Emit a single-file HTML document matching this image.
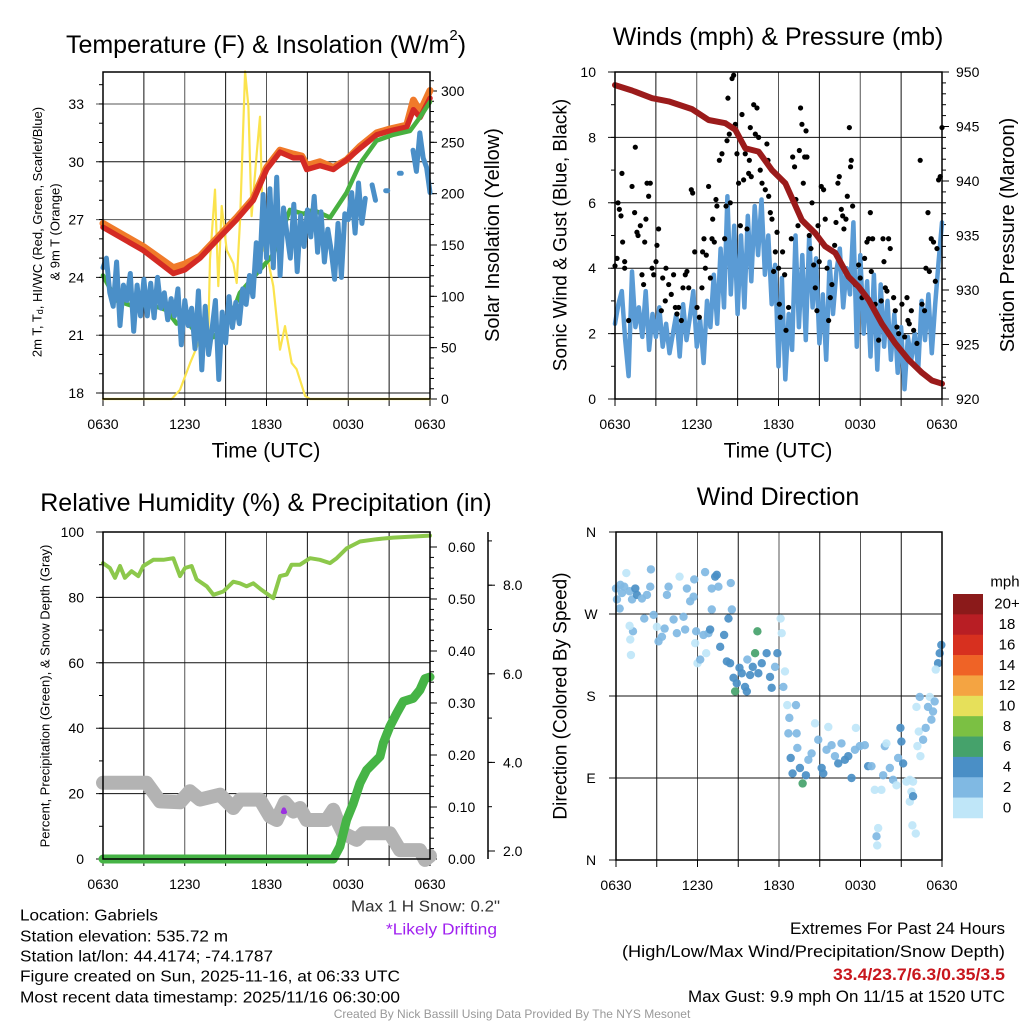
<!DOCTYPE html>
<html><head><meta charset="utf-8"><title>Mesonet Station Summary</title>
<style>
html,body{margin:0;padding:0;background:#fff;}
svg{display:block;font-family:"Liberation Sans",sans-serif;}
</style></head>
<body>
<svg id="chart" width="1024" height="1024" viewBox="0 0 1024 1024" xmlns="http://www.w3.org/2000/svg">
<rect x="0" y="0" width="1024" height="1024" fill="#fff"/>
<g id="layer"></g>
</svg>
<script>
// ---------- Panel 1: temperature (hours since 0630 UTC) ----------
const tempHours=[0,2.96,5.16,6.02,7.12,8.59,9.81,11.03,12.01,12.99,13.97,14.58,14.95,15.93,16.9,17.88,18.86,20.09,21.06,22.29,22.78,23.27,24];
const tempValues=[26.6,25.4,24.2,24.4,25.0,26.1,27.0,28.0,29.6,30.5,30.2,30.2,29.6,29.8,29.6,30.1,30.7,31.4,31.6,31.8,32.7,32.3,33.3];
const temp9mValues=[26.8,25.6,24.5,24.7,25.1,26.2,27.1,28.1,29.7,30.6,30.4,30.3,29.8,30.0,29.7,30.1,30.8,31.5,31.7,31.9,33.2,32.6,33.7];
const dewHours=[0,1.0,2.23,3.45,4.67,5.41,6.14,6.87,8.1,9.32,10.05,11.03,11.77,12.5,13.72,14.7,15.43,16.66,17.88,18.86,20.08,21.3,22.53,23.26,24];
const dewValues=[24.1,22.8,22.5,22.6,22.3,21.6,21.7,21.1,20.9,21.8,23.2,24.0,24.6,25.2,27.5,27.3,27.5,27.1,28.4,29.9,31.1,31.4,31.6,32.3,33.1];
const chillValues=[24.5,25.0,23.2,22.5,24.8,21.5,23.6,22.8,24.2,21.2,23.6,22.0,23.9,
22.0,23.7,21.9,24.0,22.4,23.2,21.8,22.9,22.0,23.4,20.5,22.8,
21.5,22.4,20.3,23.3,19.2,22.5,20.0,21.3,22.8,18.7,22.2,20.6,
23.0,21.4,22.7,21.6,23.4,22.6,24.1,23.0,25.8,24.3,28.3,25.0,
28.6,24.5,29.2,24.1,27.6,26.3,25.0,27.8,24.3,27.2,25.6,27.5,
26.1,28.2,25.3,27.4,24.8,26.5,25.4,23.9,26.8,24.0,27.3,27.0,
28.4,26.3,28.9,26.8,28.1,null,28.8,28.0,null,null,28.5,null,
null,null,29.4,null,null,null,30.6,29.5,31.5,30.2,29.7,28.4];
const solarHours=[0,5.04,5.65,6.39,7.12,7.73,7.85,8.22,8.46,8.71,9.08,9.57,9.81,10.06,10.43,10.67,10.91,11.28,11.52,11.77,12.01,12.5,12.99,13.36,13.85,14.21,14.83,15.19,24];
const solarValues=[0,0,9,35,58,64,136,204,110,188,145,132,113,175,319,285,178,239,275,145,142,110,48,71,35,29,3,0,0];
const tempTicks=[18,21,24,27,30,33];
const solarTicks=[0,50,100,150,200,250,300];
const timeTickLabels=["0630","1230","1830","0030","0630"];
// ---------- Panel 2: winds & pressure ----------
const windValues=[2.3,2.9,3.3,1.8,0.7,3.9,2.2,2.8,1.9,3.3,1.5,2.6,1.9,
2.8,1.6,2.3,1.4,2.0,2.6,1.3,2.9,1.8,2.5,3.3,1.6,
2.4,1.1,3.0,2.2,3.8,2.3,4.6,2.8,6.2,3.2,5.3,2.6,
5.0,2.8,5.6,3.6,5.9,4.4,6.1,3.8,5.0,2.9,4.1,1.0,
3.7,0.6,2.6,1.5,5.0,2.2,4.4,1.8,5.0,2.8,4.3,1.7,
3.2,1.2,4.2,2.6,3.9,4.6,2.8,4.0,3.2,5.4,1.6,4.4,
2.0,3.6,1.3,3.8,0.9,3.5,1.6,3.0,1.2,2.6,0.8,2.2,
0.3,1.9,1.2,2.0,0.9,3.0,1.8,3.2,1.4,2.9,4.2,5.4];
const gustHours=[0,0.15,0.22,0.32,0.44,0.51,0.56,0.71,0.71,1.0,1.25,1.44,1.49,1.61,1.69,1.86,1.98,2.1,2.18,2.27,2.35,2.47,2.59,2.72,2.84,3.01,3.08,3.2,3.4,3.5,3.69,3.74,3.94,4.13,4.3,4.43,4.55,4.67,4.87,4.99,5.16,5.28,5.41,5.6,5.7,5.85,6.02,6.19,6.38,6.43,6.53,6.63,6.7,6.87,7.0,7.12,7.17,7.29,7.41,7.48,7.66,7.85,8.05,8.15,8.22,8.29,8.39,8.46,8.59,8.71,8.83,8.95,9.07,9.2,9.32,9.44,9.56,9.69,9.81,9.86,9.93,10.0,10.18,10.3,10.42,10.54,10.66,10.79,11.03,11.15,11.23,11.28,11.4,11.52,11.64,11.77,11.89,12.01,12.06,12.13,12.3,12.45,12.55,12.74,12.94,13.04,13.18,13.28,13.43,13.53,13.62,13.72,13.82,13.92,14.02,14.09,14.26,14.38,14.46,14.58,14.7,14.82,14.9,14.99,15.14,15.31,15.43,15.56,15.68,15.8,15.92,16.12,16.22,16.36,16.46,16.61,16.71,16.8,16.95,17.05,17.2,17.29,17.34,17.44,17.64,17.88,18.0,18.13,18.32,18.49,18.61,18.74,18.81,18.91,19.1,19.35,19.54,19.67,19.74,19.84,19.96,20.08,20.2,20.45,20.57,20.69,20.82,21.06,21.26,21.43,21.5,21.6,21.75,21.92,22.16,22.4,22.53,22.72,22.82,22.97,23.07,23.21,23.38,23.51,23.63,23.75,23.87,24.0];
const gustValues=[4.07,4.3,6.0,5.8,5.6,6.9,4.8,4.2,4.0,2.4,6.5,5.7,7.7,5.1,5.0,5.3,3.8,3.5,4.8,5.5,6.6,6.2,6.6,4.0,3.8,4.2,4.7,5.2,2.7,3.7,3.0,4.0,3.5,3.2,3.8,2.8,2.6,2.8,2.4,3.4,3.8,3.9,3.4,6.4,6.3,4.5,2.8,2.5,3.4,4.5,4.9,4.0,4.4,6.5,3.7,4.9,5.5,4.8,6.1,5.9,7.3,7.5,4.9,5.9,7.9,9.2,8.1,6.0,9.8,9.9,8.4,7.5,6.6,5.3,8.7,6.7,7.5,5.2,6.9,7.3,8.3,6.8,9.0,8.1,8.9,8.0,7.0,6.6,6.4,7.8,7.3,6.2,5.7,5.5,3.9,4.5,5.1,4.0,2.9,2.5,4.5,3.8,2.1,2.8,4.9,7.4,7.1,6.1,5.3,7.6,8.9,8.4,6.6,7.4,8.2,7.4,5.0,4.6,6.0,4.1,3.4,2.7,5.3,4.2,6.5,6.4,5.5,4.0,2.4,3.1,3.5,4.7,5.4,6.6,6.8,5.8,5.6,5.2,5.5,6.2,8.3,7.1,7.3,5.9,3.5,4.1,3.7,3.1,4.3,4.8,4.9,5.7,3.9,4.9,2.9,1.8,3.0,4.9,4.2,3.4,3.3,4.9,4.6,3.1,2.7,2.2,2.0,2.9,1.9,3.1,2.4,2.3,2.7,2.1,1.7,7.3,2.9,2.7,4.0,5.7,3.9,4.9,4.8,3.6,4.6,6.7,6.8,8.3];
const pressHours=[0,1.25,2.72,3.94,5.65,6.87,8.1,8.83,9.56,10.54,11.52,12.5,13.72,14.7,15.43,16.17,17.15,17.88,18.61,19.59,20.57,21.55,22.53,23.26,24];
const pressValues=[948.8,948.3,947.6,947.3,946.6,945.6,945.3,944.7,943.0,942.7,941.0,939.8,936.4,935.2,934.0,933.4,931.2,930.3,929.1,926.9,925.1,923.6,922.4,921.7,921.4];
const windTicks=[0,2,4,6,8,10];
const pressTicks=[920,925,930,935,940,945,950];
// ---------- Panel 3: RH, precip, snow ----------
const rhHours=[0,0.51,0.88,1.25,1.61,2.1,2.59,2.96,3.69,4.43,5.16,5.65,6.02,6.5,6.87,7.61,8.1,8.83,9.56,10.05,10.54,11.03,11.64,12.01,12.5,12.99,13.48,13.84,14.46,15.19,15.92,16.66,17.15,17.88,18.86,20.08,21.3,24];
const rhValues=[90.5,89,86,89.6,86,88,86.5,89.6,91.5,91.5,92,86.5,89,89.6,85.5,83.4,80.8,81.8,84.8,84.3,83.4,84.3,82.3,81.2,79.8,86.5,87,90,90,92,91.5,90.5,92,95,97.1,97.8,98.3,98.9];
const precipHours=[0,16.9,17.39,17.88,18.37,18.86,19.35,19.84,20.33,20.57,21.06,21.55,22.04,22.77,23.26,23.63,24];
const precipValues=[0,0,0.024,0.075,0.107,0.146,0.171,0.184,0.197,0.223,0.255,0.28,0.303,0.309,0.325,0.347,0.35];
const snowHours=[0,3.2,4.18,5.65,6.38,7.12,8.59,9.56,10.05,11.52,12.25,12.74,13.36,13.97,14.46,14.95,16.41,16.9,17.27,17.64,18.61,19.1,21.06,21.79,23.26,23.63,24];
const snowValues=[3.54,3.54,3.12,3.1,3.35,3.16,3.27,2.97,3.16,3.16,2.78,2.7,3.1,2.89,2.97,2.7,2.7,2.93,2.63,2.4,2.25,2.4,2.4,2.02,2.02,1.8,1.89];
const driftHours=[13.2,13.28,13.36];
const driftValues=[2.88,2.94,2.88];
const rhTicks=[0,20,40,60,80,100];
const precipTicks=[0,0.1,0.2,0.3,0.4,0.5,0.6];
const snowTicks=[2,4,6,8];
// ---------- Panel 4: wind direction ----------
const dirHours=[0,0.07,0.27,0.32,0.61,0.76,0.44,1.0,1.18,1.42,1.54,1.91,2.28,2.52,2.57,2.08,2.77,3.01,1.25,1.05,1.1,1.0,3.75,3.87,4.24,4.48,4.68,4.97,5.09,5.22,5.46,5.76,5.71,3.13,3.38,3.58,5.9,5.83,6.0,6.2,6.44,6.56,6.81,6.93,7.05,7.05,7.3,7.42,7.54,6.64,7.67,7.96,8.28,8.45,8.53,8.16,8.4,8.65,8.89,9.09,9.26,9.5,9.63,9.67,9.87,10.07,10.24,10.41,10.48,10.73,11.09,11.34,11.46,11.71,11.88,12.12,12.2,12.32,12.44,12.61,12.76,12.69,12.86,13.0,13.25,13.3,13.35,13.54,13.74,13.98,14.16,14.4,14.65,14.89,15.14,15.26,15.5,15.63,15.87,16.12,16.36,16.6,16.85,17.1,17.34,17.59,17.66,17.95,18.32,18.56,18.81,19.05,19.18,19.3,19.23,19.54,19.67,19.79,19.91,20.16,20.4,20.65,20.77,20.94,21.01,21.14,21.38,21.63,21.75,21.63,21.87,21.82,22.07,22.12,22.19,22.29,22.41,22.61,22.8,22.36,22.97,23.1,23.34,23.46,23.22,23.71,23.83,23.95,23.54,21.87,8.77];
const dirDegrees=[298,286,276,302,300,315,293,295,286,298,291,287,291,300,319,265,269,256,251,242,225,257,291,300,264,249,311,267,253,298,284,308,289,240,245,254,251,238,216,220,247,316,249,253,275,298,311,313,300,227,234,247,265,304,275,218,216,200,194,211,205,190,185,220,203,212,227,251,205,216,227,201,189,212,227,265,249,190,207,170,156,139,112,95,170,139,123,101,84,93,110,117,150,132,101,95,121,146,126,114,106,128,110,114,90,121,145,125,126,103,103,77,26,35,16,77,93,125,128,101,88,82,112,145,130,106,86,88,75,64,70,38,29,168,125,141,114,132,145,179,168,179,163,174,154,216,227,236,209,86,185];
const dirSpeeds=[3,3,3,3,3,1,3,3,3,5,5,3,3,3,3,3,3,1,3,1,1,1,3,3,3,3,1,3,3,3,3,3,3,3,3,3,3,1,1,3,3,3,3,5,3,3,5,5,3,1,5,5,5,3,3,5,5,5,5,5,5,5,5,3,5,5,7,7,5,5,5,5,5,3,5,1,1,3,1,1,3,3,5,5,3,3,3,5,7,5,3,3,1,3,5,5,3,1,3,3,5,3,5,5,5,3,1,3,3,5,3,1,3,1,1,1,3,3,1,3,3,1,3,5,5,5,1,1,1,1,5,1,1,1,1,1,1,3,3,3,3,1,3,3,3,5,5,5,1,1,7];
const dirTickLabels=["N","E","S","W","N"];
const dirTicks=[0,90,180,270,360];
const speedBins=[0,2,4,6,8,10,12,14,16,18,20];
const speedBinLabels=["0","2","4","6","8","10","12","14","16","18","20+"];
const speedColors=["#bfe6f8","#80b9e3","#4a8fc6","#45a26b","#7bc043","#e6e05a","#f4a442","#ef6326","#d7301f","#b81e24","#8b1a1a"];

// ---------- drawing helpers ----------
const NS="http://www.w3.org/2000/svg";
const layer=document.getElementById('layer');
function el(tag,attrs,parent,text){
  const e=document.createElementNS(NS,tag);
  for(const k in attrs) e.setAttribute(k,attrs[k]);
  if(text!==undefined) e.textContent=text;
  (parent||layer).appendChild(e);
  return e;
}
function group(name){
  const g=el('g',{});
  
  
  return g;
}
function txt(parent,x,y,s,size,opts){
  opts=opts||{};
  const t=el('text',{x:x,y:y,'font-size':size,'text-anchor':opts.anchor||'middle','dominant-baseline':'central',fill:opts.fill||'#000'},parent,s);
  if(opts.weight) t.setAttribute('font-weight',opts.weight);
  if(opts.rotate) t.setAttribute('transform','rotate(-90 '+x+' '+y+')');
  if(opts.len){ t.setAttribute('textLength',opts.len); t.setAttribute('lengthAdjust','spacingAndGlyphs'); }
  
  
  return t;
}
function polyline(parent,xs,ys,color,w,name,cap){
  let segs=[],cur=[];
  for(let i=0;i<xs.length;i++){
    if(ys[i]===null||ys[i]===undefined){ if(cur.length) segs.push(cur); cur=[]; }
    else cur.push([xs[i],ys[i]]);
  }
  if(cur.length) segs.push(cur);
  segs.forEach(s=>{
    if(s.length===1){ s.push([s[0][0]+2,s[0][1]]); }
    const p=el('path',{d:'M'+s.map(q=>q[0].toFixed(1)+','+q[1].toFixed(1)).join('L'),fill:'none',stroke:color,'stroke-width':w,'stroke-linejoin':'round','stroke-linecap':cap||'round'},parent);
    
    
  });
}
function makeX(x0,x1){ return h=>x0+(x1-x0)*h/24; }

function frame(g,x0,x1,y0,y1,xs){
  for(let h=3;h<24;h+=3){
    const l=el('line',{x1:xs(h),x2:xs(h),y1:y0,y2:y1,stroke:(h%6===0?'#555':'#111'),'stroke-width':1},g);
    
    
  }
  for(let h=0;h<=24;h+=3){
    const t=el('line',{x1:xs(h),x2:xs(h),y1:y1,y2:y1+7,stroke:'#000','stroke-width':1},g);
    
    
  }
  timeTickLabels.forEach((s,i)=>txt(g,xs(i*6),y1+25,s,14,{name:'x-tick-label'}));
}
function border(g,x0,x1,y0,y1){
  const r=el('rect',{x:x0,y:y0,width:x1-x0,height:y1-y0,fill:'none',stroke:'#000','stroke-width':1.5},g);
  
  
}
function hgrid(g,x0,x1,y,dark){
  const l=el('line',{x1:x0-7,x2:x1,y1:y,y2:y,stroke:dark?'#111':'#555','stroke-width':1},g);
  
  
}
function tick(g,x,y,len,name){
  const l=el('line',{x1:x,x2:x+len,y1:y,y2:y,stroke:'#000','stroke-width':1},g);
  
  
}

// ================= PANEL 1 =================
(function(){
  const g=group('temperature-panel');
  const x0=103,x1=430,y0=72,y1=399;
  const xs=makeX(x0,x1);
  const yT=v=>393-(v-18)*19.27;
  const yS=v=>399-v*1.0267;
  const tt=txt(g,266,45,'',25,{name:'temperature-title'});
  tt.innerHTML='Temperature (F) &amp; Insolation (W/m<tspan font-size="15" dy="-10">2</tspan><tspan dy="10">)</tspan>';
  frame(g,x0,x1,y0,y1,xs);
  tempTicks.forEach((v,i)=>{hgrid(g,x0,x1,yT(v),i%2===0);txt(g,84,yT(v),String(v),14,{anchor:'end',name:'left-tick-label'});});
  for(let v=18;v<=34;v++) tick(g,x0-4,yT(v),4,'left-minor-tick');
  solarTicks.forEach(v=>{tick(g,x1,yS(v),7,'right-tick');txt(g,441,yS(v),String(v),14,{anchor:'start',name:'right-tick-label'});});
  for(let v=0;v<=310;v+=10) tick(g,x1,yS(v),4,'right-minor-tick');
  polyline(g,solarHours.map(xs),solarValues.map(yS),'#fbe34d',2.2,'solar-insolation-line');
  polyline(g,tempHours.map(xs),temp9mValues.map(yT),'#f07a2a',7,'temp-9m-line');
  polyline(g,tempHours.map(xs),tempValues.map(yT),'#d42a24',5.5,'temp-2m-line');
  polyline(g,dewHours.map(xs),dewValues.map(yT),'#48b040',4.5,'dewpoint-line');
  polyline(g,chillValues.map((v,i)=>xs(i*0.25)),chillValues.map(v=>v===null?null:yT(v)),'#4a8fc8',5,'wind-chill-line');
  border(g,x0,x1,y0,y1);
  txt(g,266,451,'Time (UTC)',21,{name:'x-axis-title'});
  const t=txt(g,37,232,'',13,{rotate:true,name:'left-axis-title'});
  t.innerHTML='2m T, T<tspan font-size="9" dy="3">d</tspan><tspan dy="-3">, HI/WC (Red, Green, Scarlet/Blue)</tspan>';
  txt(g,55,232,'& 9m T (Orange)',13,{rotate:true,name:'left-axis-title-line2'});
  txt(g,493,235,'Solar Insolation (Yellow)',20,{rotate:true,name:'right-axis-title'});
})();

// ================= PANEL 2 =================
(function(){
  const g=group('winds-panel');
  const x0=615,x1=942,y0=72,y1=399;
  const xs=makeX(x0,x1);
  const yW=v=>399-v*32.7;
  const yP=v=>399-(v-920)*10.9;
  txt(g,778,37,'Winds (mph) & Pressure (mb)',25,{name:'winds-title'});
  frame(g,x0,x1,y0,y1,xs);
  windTicks.forEach((v,i)=>{hgrid(g,x0,x1,yW(v),true);txt(g,596,yW(v),String(v),14,{anchor:'end',name:'left-tick-label'});});
  for(let v=0;v<=10;v++) tick(g,x0-4,yW(v),4,'left-minor-tick');
  pressTicks.forEach(v=>{tick(g,x1,yP(v),7,'right-tick');txt(g,956,yP(v),String(v),14,{anchor:'start',name:'right-tick-label'});});
  for(let v=920;v<=950;v++) tick(g,x1,yP(v),4,'right-minor-tick');
  polyline(g,windValues.map((v,i)=>xs(i*0.25)),windValues.map(yW),'#5a9bd5',4.5,'sonic-wind-line');
  gustHours.forEach((h,i)=>{
    const c=el('circle',{cx:xs(h),cy:yW(gustValues[i]),r:2.6,fill:'#000'},g);
    
    
  });
  polyline(g,pressHours.map(xs),pressValues.map(yP),'#9b1b1b',6,'pressure-line');
  border(g,x0,x1,y0,y1);
  txt(g,778,451,'Time (UTC)',21,{name:'x-axis-title'});
  txt(g,561,235,'Sonic Wind & Gust (Blue, Black)',19,{rotate:true,name:'left-axis-title'});
  txt(g,1008,235,'Station Pressure (Maroon)',20,{rotate:true,name:'right-axis-title'});
})();

// ================= PANEL 3 =================
(function(){
  const g=group('humidity-panel');
  const x0=103,x1=430,y0=532,y1=859;
  const xs=makeX(x0,x1);
  const yR=v=>859-v*3.27;
  const yPr=v=>859-v*520;
  const ySn=v=>851-(v-2)*44.3;
  txt(g,266,503,'Relative Humidity (%) & Precipitation (in)',25,{name:'humidity-title'});
  frame(g,x0,x1,y0,y1,xs);
  rhTicks.forEach(v=>{hgrid(g,x0,x1,yR(v),true);txt(g,84,yR(v),String(v),14,{anchor:'end',name:'left-tick-label'});});
  for(let v=0;v<=100;v+=10) tick(g,x0-4,yR(v),4,'left-minor-tick');
  precipTicks.forEach(v=>{tick(g,x1,yPr(v),7,'right-tick');txt(g,448,yPr(v),v.toFixed(2),14,{anchor:'start',name:'precip-tick-label'});});
  for(let v=0;v<=0.62;v+=0.02) tick(g,x1,yPr(v),4,'right-minor-tick');
  const ax=el('line',{x1:488,x2:488,y1:532,y2:859,stroke:'#000','stroke-width':1.5},g);
  
  
  snowTicks.forEach(v=>{tick(g,488,ySn(v),7,'snow-tick');txt(g,503,ySn(v),v.toFixed(1),14,{anchor:'start',name:'snow-tick-label'});});
  for(let v=2;v<=9;v++) tick(g,488,ySn(v),4,'snow-minor-tick');
  polyline(g,snowHours.map(xs),snowValues.map(ySn),'#b3b3b3',14,'snow-depth-line');
  polyline(g,driftHours.map(xs),driftValues.map(ySn),'#9b30e0',4,'likely-drifting-marker');
  polyline(g,rhHours.map(xs),rhValues.map(yR),'#8cc84b',4,'relative-humidity-line');
  polyline(g,precipHours.map(xs),precipValues.map(yPr),'#46b446',9,'precipitation-line');
  border(g,x0,x1,y0,y1);
  txt(g,45,696,'Percent, Precipitation (Green), & Snow Depth (Gray)',13,{rotate:true,name:'left-axis-title'});
})();

// ================= PANEL 4 =================
(function(){
  const g=group('wind-direction-panel');
  const x0=616,x1=942,y0=532,y1=860;
  const xs=makeX(x0,x1);
  const yD=v=>860-v*0.911;
  txt(g,778,497,'Wind Direction',25,{name:'wind-direction-title'});
  frame(g,x0,x1,y0,y1,xs);
  dirTicks.forEach((v,i)=>{hgrid(g,x0,x1,yD(v),true);txt(g,591,yD(v),dirTickLabels[i],14,{name:'direction-tick-label'});});
  dirHours.forEach((h,i)=>{
    const s=dirSpeeds[i];
    let k=0; speedBins.forEach((b,j)=>{ if(s>=b) k=j; });
    const c=el('circle',{cx:xs(h),cy:yD(dirDegrees[i]),r:4.2,fill:speedColors[k],'fill-opacity':0.92},g);
    
    
  });
  border(g,x0,x1,y0,y1);
  txt(g,561,696,'Direction (Colored By Speed)',19,{rotate:true,name:'left-axis-title'});
  const cb=group('speed-colorbar');
  const top=594,bh=20.36;
  txt(cb,1005,582,'mph',15,{name:'colorbar-title'});
  speedColors.forEach((c,i)=>{
    const idx=speedColors.length-1-i;
    const r=el('rect',{x:953,y:top+i*bh,width:30,height:bh+0.3,fill:speedColors[idx]},cb);
    
    
    txt(cb,1007,top+i*bh+bh/2,speedBinLabels[idx],15,{name:'colorbar-label'});
  });
})();

// ================= FOOTER TEXT =================
(function(){
  const g=group('station-info');
  const lines=['Location: Gabriels','Station elevation: 535.72 m','Station lat/lon: 44.4174; -74.1787','Figure created on Sun, 2025-11-16, at 06:33 UTC','Most recent data timestamp: 2025/11/16 06:30:00'];
  const lens=[138,208,253,380,380];
  const ys=[916,937,957,977,998];
  lines.forEach((s,i)=>txt(g,20,ys[i],s,16,{anchor:'start',len:lens[i],name:'station-info-line'}));
  txt(g,500,907,'Max 1 H Snow: 0.2"',16,{anchor:'end',fill:'#333',len:149,name:'max-snow-note'});
  txt(g,497,930,'*Likely Drifting',16,{anchor:'end',fill:'#a020f0',len:111,name:'drifting-note'});
  const r=group('extremes');
  txt(r,1005,929,'Extremes For Past 24 Hours',16.5,{anchor:'end',len:215,name:'extremes-title'});
  txt(r,1005,952,'(High/Low/Max Wind/Precipitation/Snow Depth)',16.5,{anchor:'end',len:383,name:'extremes-legend'});
  txt(r,1005,975,'33.4/23.7/6.3/0.35/3.5',16.5,{anchor:'end',fill:'#c8161d',weight:'bold',len:172,name:'extremes-values'});
  txt(r,1005,997,'Max Gust: 9.9 mph On 11/15 at 1520 UTC',16.5,{anchor:'end',len:317,name:'max-gust'});
  txt(g,512,1014,'Created By Nick Bassill Using Data Provided By The NYS Mesonet',12,{fill:'#999',name:'credit-footer'});
})();
</script>
</body></html>
